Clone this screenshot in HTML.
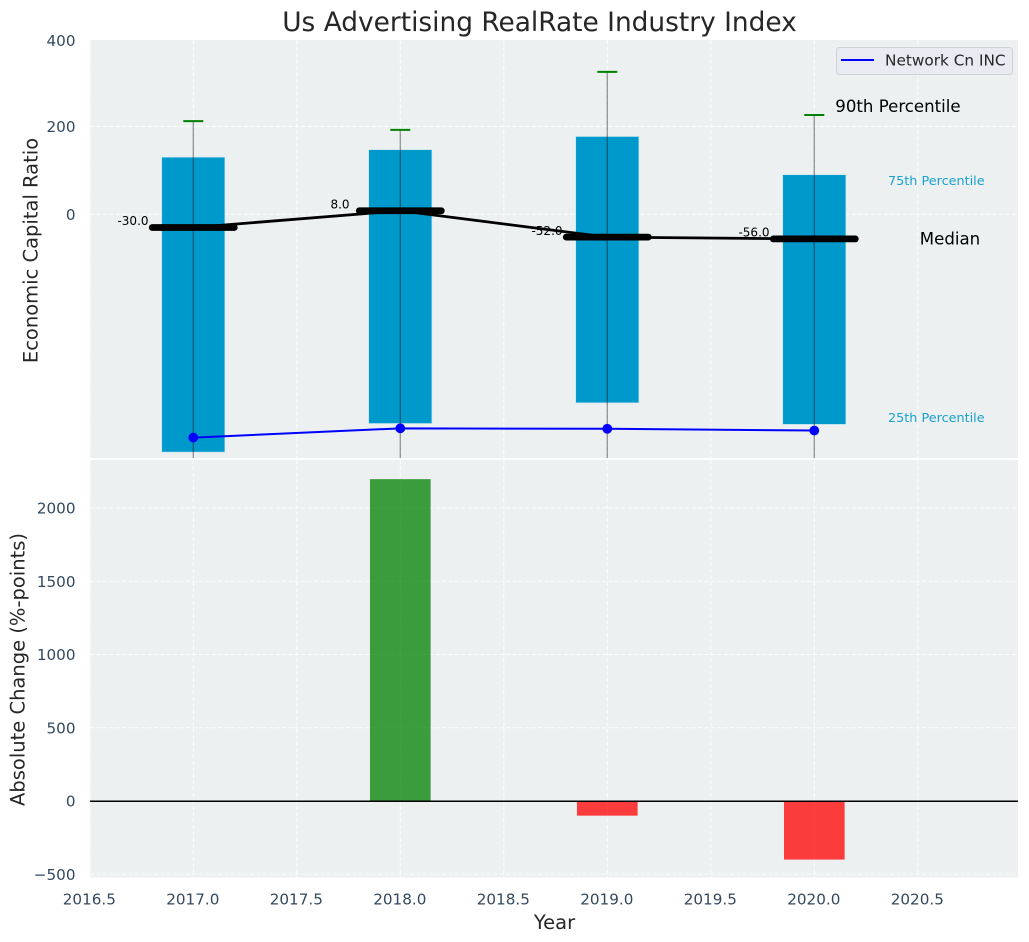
<!DOCTYPE html>
<html lang="en">
<head>
<meta charset="utf-8">
<title>Us Advertising RealRate Industry Index</title>
<style>
html,body{margin:0;padding:0;background:#fff;}
svg{display:block;font-family:"DejaVu Sans","Liberation Sans",sans-serif;}
</style>
</head>
<body>
<svg id="chart" xmlns="http://www.w3.org/2000/svg" width="1029" height="942" viewBox="0 0 1029 942">
  <defs>
    <clipPath id="top-clip"><rect x="90" y="40" width="928" height="418"/></clipPath>
    <clipPath id="bottom-clip"><rect x="90" y="460" width="928" height="417.5"/></clipPath>
  </defs>
  <rect x="90" y="40" width="928" height="418" fill="#ecf0f1"/>
  <rect x="90" y="460" width="928" height="417.5" fill="#ecf0f1"/>
  <g id="grid"></g>
  <g id="top-marks" clip-path="url(#top-clip)"></g>
  <g id="bottom-marks" clip-path="url(#bottom-clip)"></g>
  <g id="labels"></g>
  <text x="539.5" y="31" text-anchor="middle" font-size="26.4" fill="#262626">Us Advertising RealRate Industry Index</text>
  <text transform="translate(37.5,250.5) rotate(-90)" text-anchor="middle" font-size="19.5" fill="#262626">Economic Capital Ratio</text>
  <text transform="translate(24.5,669.5) rotate(-90)" text-anchor="middle" font-size="19.5" fill="#262626">Absolute Change (%-points)</text>
  <text x="554.5" y="929" text-anchor="middle" font-size="19.5" fill="#262626">Year</text>
  <g>
    <rect x="836.5" y="47.5" width="176" height="27" rx="3" fill="#eaeaf2" stroke="#cfd2d6" stroke-width="1"/>
    <line x1="841" y1="60" x2="874" y2="60" stroke="#0000ff" stroke-width="2"/>
    <text x="885" y="65.5" font-size="15.3" fill="#262626">Network Cn INC</text>
  </g>
</svg>
<script>
const years = [2017, 2018, 2019, 2020];
const p90 = [212, 192, 324, 226];
const p75 = [130, 147, 177, 90];
const medians = [-30, 8, -52, -56];
const p25 = [-541, -476, -429, -478];
const p10 = [-700, -690, -680, -700];
const companyValues = [-508, -487, -488, -492];
const changes = [0, 2197, -100, -400];
const xTicks = [2016.5, 2017, 2017.5, 2018, 2018.5, 2019, 2019.5, 2020, 2020.5];
const topYTicks = [0, 200, 400];
const bottomYTicks = [-500, 0, 500, 1000, 1500, 2000];

const NS = 'http://www.w3.org/2000/svg';
const xScale = v => 193.3 + (v - 2017) * 207;
const yTop = v => 214.3 - v * 0.4395;
const yBottom = v => 801 - v * 0.1465;

function mk(parent, tag, attrs, text) {
  const el = document.createElementNS(NS, tag);
  for (const k in attrs) el.setAttribute(k, attrs[k]);
  if (text !== undefined) el.textContent = text;
  parent.appendChild(el);
  return el;
}
const gridG = document.getElementById('grid');
const topG = document.getElementById('top-marks');
const botG = document.getElementById('bottom-marks');
const labG = document.getElementById('labels');
const gridStyle = {stroke: '#ffffff', 'stroke-width': 1.1, 'stroke-dasharray': '4.4 2', 'stroke-opacity': 0.85, fill: 'none'};
const tickFont = 15.2;

xTicks.forEach(t => {
  const a = mk(gridG, 'line', Object.assign({x1: xScale(t), x2: xScale(t), y1: 40, y2: 458}, gridStyle));
  
  
  const b = mk(gridG, 'line', Object.assign({x1: xScale(t), x2: xScale(t), y1: 460, y2: 877.5}, gridStyle));
  
  
  const l = mk(labG, 'text', {x: xScale(t) - 0.5, y: 904.5, 'text-anchor': 'middle', 'font-size': tickFont, fill: '#34495e'}, t.toFixed(1));
  
  
});
topYTicks.forEach(t => {
  const a = mk(gridG, 'line', Object.assign({x1: 90, x2: 1018, y1: yTop(t), y2: yTop(t)}, gridStyle));
  
  
  const l = mk(labG, 'text', {x: 75.5, y: Math.max(yTop(t), 40.3) + 5.6, 'text-anchor': 'end', 'font-size': tickFont, fill: '#34495e'}, String(t));
  
  
});
bottomYTicks.forEach(t => {
  const a = mk(gridG, 'line', Object.assign({x1: 90, x2: 1018, y1: yBottom(t), y2: yBottom(t)}, gridStyle));
  
  
  const l = mk(labG, 'text', {x: 75.5, y: yBottom(t) + 5.6, 'text-anchor': 'end', 'font-size': tickFont, fill: '#34495e'}, (t < 0 ? '\u2212' + Math.abs(t) : String(t)));
  
  
});

const halfBar = 0.1525 * 207;
years.forEach((yr, i) => {
  const bar = mk(topG, 'rect', {x: xScale(yr) - halfBar, y: yTop(p75[i]), width: halfBar * 2, height: yTop(p25[i]) - yTop(p75[i]), fill: '#0099cc', stroke: '#bfe3ef', 'stroke-width': 0.6});
  
  
});
years.forEach((yr, i) => {
  const w = mk(topG, 'line', {x1: xScale(yr), x2: xScale(yr), y1: yTop(p90[i]), y2: yTop(p10[i]), stroke: '#000000', 'stroke-opacity': 0.38, 'stroke-width': 1.4});
  
  
  const c = mk(topG, 'line', {x1: xScale(yr) - 10, x2: xScale(yr) + 10, y1: yTop(p90[i]), y2: yTop(p90[i]), stroke: '#008000', 'stroke-width': 2});
  
  
});

const medianLine = mk(topG, 'polyline', {points: years.map((yr, i) => xScale(yr) + ',' + yTop(medians[i])).join(' '), fill: 'none', stroke: '#000000', 'stroke-width': 2.8});


years.forEach((yr, i) => {
  const m = mk(topG, 'line', {x1: xScale(yr) - 41, x2: xScale(yr) + 41, y1: yTop(medians[i]), y2: yTop(medians[i]), stroke: '#000000', 'stroke-width': 6.8, 'stroke-linecap': 'round'});
  
  
  const t = mk(topG, 'text', {x: xScale(yr) - 60.3, y: yTop(medians[i]) - 2.3, 'text-anchor': 'middle', 'font-size': 12, fill: '#000000'}, medians[i].toFixed(1));
  
  
});

const companyLine = mk(topG, 'polyline', {points: years.map((yr, i) => xScale(yr) + ',' + yTop(companyValues[i])).join(' '), fill: 'none', stroke: '#0000ff', 'stroke-width': 2});


years.forEach((yr, i) => {
  const d = mk(topG, 'circle', {cx: xScale(yr), cy: yTop(companyValues[i]), r: 4.9, fill: '#0000ff'});
  
  
});

const last = years.length - 1;
const labelX = xScale(years[last]);
const a90 = mk(topG, 'text', {x: labelX + 21, y: yTop(p90[last]) - 3, 'font-size': 16.6, fill: '#000000'}, '90th Percentile');


const a75 = mk(topG, 'text', {x: labelX + 73.7, y: yTop(p75[last]) + 10.3, 'font-size': 12.8, fill: '#0099cc', 'fill-opacity': 0.9}, '75th Percentile');


const aMed = mk(topG, 'text', {x: labelX + 105.5, y: yTop(medians[last]) + 5.5, 'font-size': 16.6, fill: '#000000'}, 'Median');


const a25 = mk(topG, 'text', {x: labelX + 73.7, y: yTop(p25[last]) - 2.2, 'font-size': 12.8, fill: '#0099cc', 'fill-opacity': 0.9}, '25th Percentile');



const halfChange = 0.1465 * 207;
years.forEach((yr, i) => {
  if (changes[i] === 0) return;
  const y1 = yBottom(Math.max(changes[i], 0));
  const y2 = yBottom(Math.min(changes[i], 0));
  const r = mk(botG, 'rect', {x: xScale(yr) - halfChange, y: y1, width: halfChange * 2, height: y2 - y1, fill: changes[i] > 0 ? '#008000' : '#ff0000', 'fill-opacity': 0.75});
  
  
});
const zero = mk(botG, 'line', {x1: 90, x2: 1018, y1: yBottom(0) + 0.3, y2: yBottom(0) + 0.3, stroke: '#000000', 'stroke-width': 1.5});


</script>
</body>
</html>
